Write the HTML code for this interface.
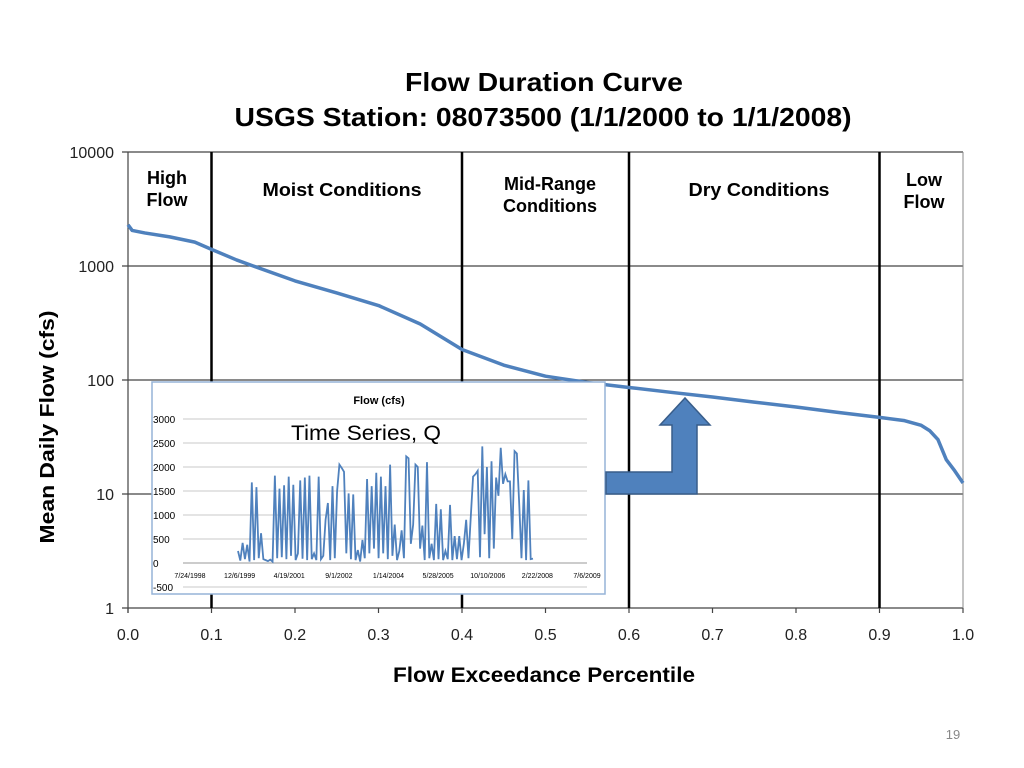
<!DOCTYPE html>
<html><head><meta charset="utf-8"><style>
body{margin:0;background:#fff;}
svg{display:block;font-family:"Liberation Sans",Arial,sans-serif;}
</style></head><body>
<svg id="chart" width="1024" height="768" viewBox="0 0 1024 768">
<text x="544" y="91" text-anchor="middle" font-size="26" font-weight="bold" textLength="278" lengthAdjust="spacingAndGlyphs">Flow Duration Curve</text>
<text x="543" y="126" text-anchor="middle" font-size="26" font-weight="bold" textLength="617" lengthAdjust="spacingAndGlyphs">USGS Station: 08073500  (1/1/2000 to 1/1/2008)</text>
<g id="grid"></g>
<g id="main"></g>
<text x="0" y="0" transform="translate(54,427) rotate(-90)" text-anchor="middle" font-size="20" font-weight="bold" textLength="233" lengthAdjust="spacingAndGlyphs">Mean Daily Flow (cfs)</text>
<text x="544" y="682" text-anchor="middle" font-size="21" font-weight="bold" textLength="302" lengthAdjust="spacingAndGlyphs">Flow Exceedance Percentile</text>
<g font-size="18" font-weight="bold" text-anchor="middle">
<text x="167" y="184"><tspan x="167">High</tspan><tspan x="167" dy="22">Flow</tspan></text>
<text x="342" y="196" textLength="159" lengthAdjust="spacingAndGlyphs">Moist Conditions</text>
<text x="550" y="190"><tspan x="550">Mid-Range</tspan><tspan x="550" dy="22">Conditions</tspan></text>
<text x="759" y="196" textLength="141" lengthAdjust="spacingAndGlyphs">Dry Conditions</text>
<text x="924" y="186"><tspan x="924">Low</tspan><tspan x="924" dy="22">Flow</tspan></text>
</g>
<g id="inset"></g>
<path d="M606,472 L672,472 L672,425 L660,425 L685,398 L710,425 L697,425 L697,494 L606,494 Z" fill="#4f81bd" stroke="#385d8a" stroke-width="1.5"/>
<text x="953" y="739" text-anchor="middle" font-size="13" fill="#888">19</text>
</svg>
<script>
const xTicks=[0,0.1,0.2,0.3,0.4,0.5,0.6,0.7,0.8,0.9,1.0];
const yTicks=[1,10,100,1000,10000];
const regionBounds=[0.1,0.4,0.6,0.9];
const exceedance=[0,0.005,0.02,0.05,0.08,0.1,0.13,0.15,0.2,0.25,0.3,0.35,0.4,0.45,0.5,0.55,0.6,0.65,0.7,0.75,0.8,0.85,0.9,0.93,0.95,0.96,0.97,0.98,0.99,1.0];
const flow=[2300,2050,1950,1800,1620,1400,1130,1000,740,580,450,310,185,135,108,95,86,78,71,64,58,52,47,44,40,36,30,20,16,12.5];
const insetDates=["7/24/1998","12/6/1999","4/19/2001","9/1/2002","1/14/2004","5/28/2005","10/10/2006","2/22/2008","7/6/2009"];
const insetYTicks=[-500,0,500,1000,1500,2000,2500,3000];
const qSeries=[250,50,420,80,380,30,1680,60,1580,100,620,80,60,40,70,30,1820,100,1550,120,1620,80,1800,150,1630,60,200,1720,90,1780,60,1820,80,200,60,1800,80,150,900,1250,60,1600,100,1500,2050,1980,1900,200,1450,80,1430,60,270,30,480,100,1750,200,1600,300,1880,100,1800,200,1600,80,2050,150,800,60,250,680,100,2220,2180,400,800,2050,2000,300,780,60,2100,100,400,60,1230,80,1120,60,250,80,1210,60,560,80,560,60,400,900,100,960,1800,1850,1920,120,2430,600,2000,100,2120,300,1780,1400,2400,1650,1850,1700,1700,500,2330,2280,1250,100,1520,60,1720,80,90];
const NS="http://www.w3.org/2000/svg";
function mk(tag,attrs,parent){const e=document.createElementNS(NS,tag);for(const k in attrs)e.setAttribute(k,attrs[k]);parent.appendChild(e);return e;}
const X0=128,X1=963,Y10k=152,Ydec=114;
const xs=v=>X0+v*(X1-X0);
const ys=v=>Y10k+(4-Math.log10(v))*Ydec;
const grid=document.getElementById('grid');
yTicks.forEach(t=>{
 const l=mk('line',{x1:X0-6,x2:X1,y1:ys(t),y2:ys(t),stroke:'#444','stroke-width':1.2},grid);
 
 
 const tx=mk('text',{x:X0-14,y:ys(t)+6,'text-anchor':'end','font-size':16,fill:'#222'},grid);
 tx.textContent=t;
 
 
});
const ax=mk('line',{x1:X0,x2:X0,y1:Y10k,y2:ys(1)+5,stroke:'#444','stroke-width':1.2},grid);


const rb=mk('line',{x1:X1,x2:X1,y1:Y10k,y2:ys(1),stroke:'#888','stroke-width':1},grid);


xTicks.forEach(t=>{
 const tk=mk('line',{x1:xs(t),x2:xs(t),y1:ys(1),y2:ys(1)+5,stroke:'#444','stroke-width':1.2},grid);
 
 
 const tx=mk('text',{x:xs(t),y:ys(1)+32,'text-anchor':'middle','font-size':16,fill:'#222'},grid);
 tx.textContent=t.toFixed(1);
 
 
});
regionBounds.forEach(b=>{
 const l=mk('line',{x1:xs(b),x2:xs(b),y1:Y10k,y2:ys(1),stroke:'#000','stroke-width':2.5},grid);
 
 
});
const main=document.getElementById('main');
const pc=mk('polyline',{points:exceedance.map((e,i)=>xs(e)+','+ys(flow[i])).join(' '),fill:'none',stroke:'#4f81bd','stroke-width':3.5,'stroke-linejoin':'round'},main);


const inset=document.getElementById('inset');
const box=mk('rect',{x:152,y:382,width:453,height:212,fill:'#fff',stroke:'#95b3d7','stroke-width':1.5},inset);


const IX0=183,IX1=587,IY0=563;
const iys=v=>IY0-v*(144/3000);
const ixs=i=>190+(i/(insetDates.length-1))*(IX1-190);
const it=mk('text',{x:379,y:404,'text-anchor':'middle','font-size':11,'font-weight':'bold'},inset);
it.textContent='Flow (cfs)';


insetYTicks.forEach(t=>{
 const l=mk('line',{x1:IX0,x2:IX1,y1:iys(t),y2:iys(t),stroke:t===0?'#999':'#c8c8c8','stroke-width':1},inset);
 
 
 const tx=mk('text',{x:153,y:iys(t)+4,'font-size':10},inset);
 tx.textContent=t;
 
 
});
insetDates.forEach((d,i)=>{
 const tx=mk('text',{x:ixs(i),y:578,'text-anchor':'middle','font-size':7},inset);
 tx.textContent=d;
 
 
});
const QX0=238,QX1=533;
const qx=i=>QX0+i*(QX1-QX0)/(qSeries.length-1);
const ql=mk('polyline',{points:qSeries.map((v,i)=>qx(i)+','+iys(v)).join(' '),fill:'none',stroke:'#4f81bd','stroke-width':1.8},inset);


const ts=mk('text',{x:366,y:440,'text-anchor':'middle','font-size':21,textLength:150,lengthAdjust:'spacingAndGlyphs'},inset);
ts.textContent='Time Series, Q';


</script>
</body></html>
